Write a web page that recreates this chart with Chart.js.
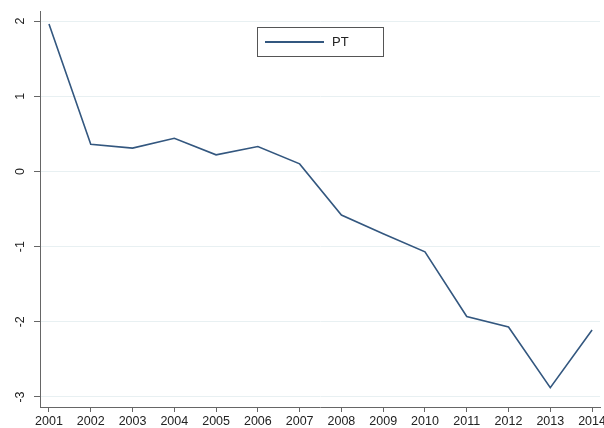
<!DOCTYPE html>
<html><head><meta charset="utf-8">
<script src="https://cdn.jsdelivr.net/npm/chart.js@4/dist/chart.umd.min.js"></script>
<style>html,body{margin:0;padding:0;background:#fff}#wrap{width:604px;height:428px;position:relative}</style>
</head><body><div id="wrap"><canvas id="c" width="604" height="428"></canvas></div>
<script>
const years = [2001,2002,2003,2004,2005,2006,2007,2008,2009,2010,2011,2012,2013,2014];
const ptValues = [1.96,0.36,0.31,0.44,0.22,0.33,0.10,-0.58,-0.83,-1.07,-1.93,-2.07,-2.875,-2.11];
const yTicks = [-3,-2,-1,0,1,2];
const seriesLabel = 'PT';

const lineColor = '#33577f';
const font = "'Liberation Sans', Arial, sans-serif";

const yLabelPlugin = {
  id: 'yLabels',
  afterDraw(chart) {
    const ctx = chart.ctx, y = chart.scales.y;
    ctx.save();
    ctx.fillStyle = '#222';
    ctx.font = '12.5px ' + font;
    ctx.textAlign = 'center';
    ctx.textBaseline = 'middle';
    yTicks.forEach(v => {
      const py = y.getPixelForValue(v);
      ctx.save();
      ctx.translate(21, py);
      ctx.rotate(-Math.PI / 2);
      ctx.fillText(String(v), 0, 0);
      ctx.restore();
    });
    ctx.restore();
  }
};

const legendPlugin = {
  id: 'boxLegend',
  afterDraw(chart) {
    const ctx = chart.ctx;
    const ds = chart.data.datasets[0];
    ctx.save();
    ctx.fillStyle = '#fff';
    ctx.fillRect(257.5, 27.5, 126, 29);
    ctx.strokeStyle = '#555';
    ctx.lineWidth = 1;
    ctx.strokeRect(257.5, 27.5, 126, 29);
    ctx.strokeStyle = ds.borderColor;
    ctx.lineWidth = 2;
    ctx.beginPath();
    ctx.moveTo(265, 42);
    ctx.lineTo(324, 42);
    ctx.stroke();
    ctx.fillStyle = '#222';
    ctx.font = '13px ' + font;
    ctx.textAlign = 'left';
    ctx.textBaseline = 'middle';
    ctx.fillText(ds.label, 332, 42);
    ctx.restore();
  }
};

new Chart(document.getElementById('c'), {
  type: 'line',
  data: {
    datasets: [{
      label: seriesLabel,
      data: years.map((yr, i) => ({x: yr, y: ptValues[i]})),
      borderColor: lineColor,
      borderWidth: 1.6,
      pointRadius: 0,
      tension: 0,
      fill: false
    }]
  },
  options: {
    responsive: false,
    animation: false,
    devicePixelRatio: 1,
    layout: {padding: {left: 0, right: 4, top: 11, bottom: 0}},
    plugins: {legend: {display: false}, tooltip: {enabled: false}},
    scales: {
      x: {
        type: 'linear',
        min: 2000.785,
        max: 2014.19,
        afterBuildTicks(scale) { scale.ticks = years.map(v => ({value: v})); },
        afterFit(scale) { scale.height = 21; scale.paddingLeft = 0; scale.paddingRight = 0; },
        ticks: {
          color: '#222',
          font: {family: font, size: 12.5},
          padding: 2,
          maxRotation: 0,
          autoSkip: false,
          callback: v => String(v)
        },
        grid: {drawOnChartArea: false, drawTicks: true, tickLength: 5, color: '#666'},
        border: {color: '#666', width: 1}
      },
      y: {
        min: -3.133,
        max: 2.133,
        afterBuildTicks(scale) { scale.ticks = yTicks.map(v => ({value: v})); },
        afterFit(scale) { scale.width = 40; scale.paddingTop = 0; scale.paddingBottom = 0; },
        ticks: {display: false},
        grid: {
          color: '#e8f0f2',
          lineWidth: 1,
          drawTicks: true,
          tickLength: 6,
          tickColor: '#666'
        },
        border: {color: '#666', width: 1}
      }
    }
  },
  plugins: [yLabelPlugin, legendPlugin]
});
</script></body></html>
